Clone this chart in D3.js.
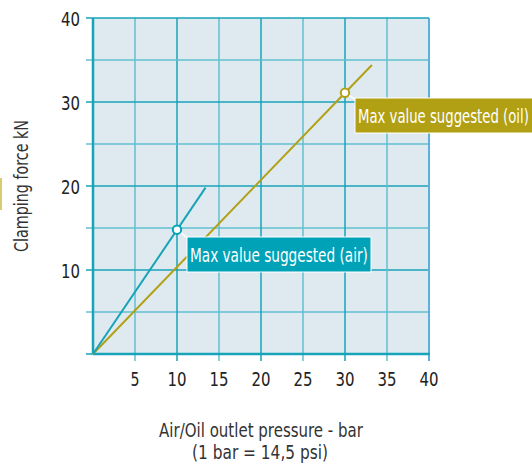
<!DOCTYPE html>
<html>
<head>
<meta charset="utf-8">
<script src="https://d3js.org/d3.v7.min.js"></script>
<style>
  body { margin:0; background:#fff; }
  text { font-family: "DejaVu Sans", sans-serif; font-stretch: condensed; }
</style>
</head>
<body>
<script>
// series: [pressure bar, force kN]
var airLine = [[0, 0], [13.4, 19.8]];
var oilLine = [[0, 0], [33.2, 34.4]];
var airMax = [10, 14.8];
var oilMax = [30, 31.1];
var airLabel = "Max value suggested (air)";
var oilLabel = "Max value suggested (oil)";
var xTicks = [5, 10, 15, 20, 25, 30, 35, 40];
var yTicks = [10, 20, 30, 40];
var gridSteps = [5, 10, 15, 20, 25, 30, 35, 40];

var width = 532, height = 465;
var svg = d3.select("body").append("svg").attr("width", width).attr("height", height);

var x = d3.scaleLinear().domain([0, 40]).range([93, 429]);
var y = d3.scaleLinear().domain([0, 40]).range([354, 18]);

var teal = "#17a3b8", tealLight = "#62bfd0", olive = "#b1a013";

// squeeze a text horizontally to width w (the original uses a condensed face)
function narrow(sel, w, extra){
  sel.each(function(){
    var t = d3.select(this);
    var px = +t.attr("x") || 0, py = +t.attr("y") || 0;
    var len = this.getComputedTextLength();
    var s = typeof w === "function" ? w(t.datum()) / len : w / len;
    t.attr("x", 0).attr("y", 0)
      .attr("transform", "translate(" + px + "," + py + ")" + (extra || "") + " scale(" + s + ",1)");
  });
}

// background
svg.append("rect").attr("x", x(0)).attr("y", y(40))
  .attr("width", x(40) - x(0)).attr("height", y(0) - y(40))
  .attr("fill", "#deeaf0");

// grid
gridSteps.forEach(function(v){
  var major = v % 10 === 0;
  svg.append("line").attr("x1", x(v)).attr("x2", x(v)).attr("y1", y(40)).attr("y2", y(0) + 7)
    .attr("stroke", v === 40 ? "#5ab2dc" : (major ? teal : tealLight)).attr("stroke-width", v === 40 ? 2 : 1.5);
  svg.append("line").attr("x1", x(0) - 7).attr("x2", x(40)).attr("y1", y(v)).attr("y2", y(v))
    .attr("stroke", major ? teal : tealLight).attr("stroke-width", 1.5);
});

// axes
svg.append("line").attr("x1", x(0)).attr("x2", x(40) + 1).attr("y1", y(0)).attr("y2", y(0))
  .attr("stroke", teal).attr("stroke-width", 2.5);
svg.append("line").attr("x1", x(0)).attr("x2", x(0)).attr("y1", y(40)).attr("y2", y(0))
  .attr("stroke", teal).attr("stroke-width", 2.5);
svg.append("line").attr("x1", x(0) - 7).attr("x2", x(0)).attr("y1", y(0)).attr("y2", y(0))
  .attr("stroke", teal).attr("stroke-width", 1.5);

// tick labels
svg.selectAll(".xt").data(xTicks).enter().append("text")
  .attr("x", function(d){ return x(d); }).attr("y", 386)
  .attr("text-anchor", "middle").attr("font-size", 20).attr("fill", "#222")
  .text(function(d){ return d; })
  .call(narrow, function(d){ return d < 10 ? 9 : 19; });
svg.selectAll(".yt").data(yTicks).enter().append("text")
  .attr("x", 80).attr("y", function(d){ return y(d) + 8; })
  .attr("text-anchor", "end").attr("font-size", 20).attr("fill", "#222")
  .text(function(d){ return d; })
  .call(narrow, 19);

// axis titles
svg.append("text").attr("x", 261).attr("y", 437).attr("text-anchor", "middle")
  .attr("font-size", 19).attr("fill", "#333").text("Air/Oil outlet pressure - bar").call(narrow, 204);
svg.append("text").attr("x", 260).attr("y", 459).attr("text-anchor", "middle")
  .attr("font-size", 19).attr("fill", "#333").text("(1 bar = 14,5 psi)").call(narrow, 136);
svg.append("text").attr("x", 28).attr("y", 186).attr("text-anchor", "middle")
  .attr("font-size", 19).attr("fill", "#333").text("Clamping force kN").call(narrow, 132, " rotate(-90)");
svg.append("rect").attr("x", 0).attr("y", 178).attr("width", 2).attr("height", 32).attr("fill", "#d8cc70");

// lines
var line = d3.line().x(function(d){ return x(d[0]); }).y(function(d){ return y(d[1]); });
svg.append("path").datum(oilLine).attr("d", line).attr("fill", "none").attr("stroke", olive).attr("stroke-width", 2);
svg.append("path").datum(airLine).attr("d", line).attr("fill", "none").attr("stroke", teal).attr("stroke-width", 2);

function callout(pt, color, label, bx, by, bw, tw){
  var cx = x(pt[0]), cy = y(pt[1]);
  svg.append("line").attr("x1", cx).attr("y1", cy).attr("x2", bx + 3).attr("y2", by + 3)
    .attr("stroke", "#fff").attr("stroke-width", 1.5);
  svg.append("rect").attr("x", bx).attr("y", by).attr("width", bw).attr("height", 35)
    .attr("fill", color).attr("stroke", "#fff").attr("stroke-width", 1);
  svg.append("text").attr("x", bx + 3).attr("y", by + 25).attr("font-size", 19)
    .attr("fill", "#fff").text(label).call(narrow, tw);
  svg.append("circle").attr("cx", cx).attr("cy", cy).attr("r", 4.2)
    .attr("fill", "#fff").attr("stroke", color).attr("stroke-width", 2);
}
callout(airMax, "#00a2b7", airLabel, 187, 237, 184, 178);
callout(oilMax, "#b1a013", oilLabel, 355, 98, 178, 171);
</script>
</body>
</html>
